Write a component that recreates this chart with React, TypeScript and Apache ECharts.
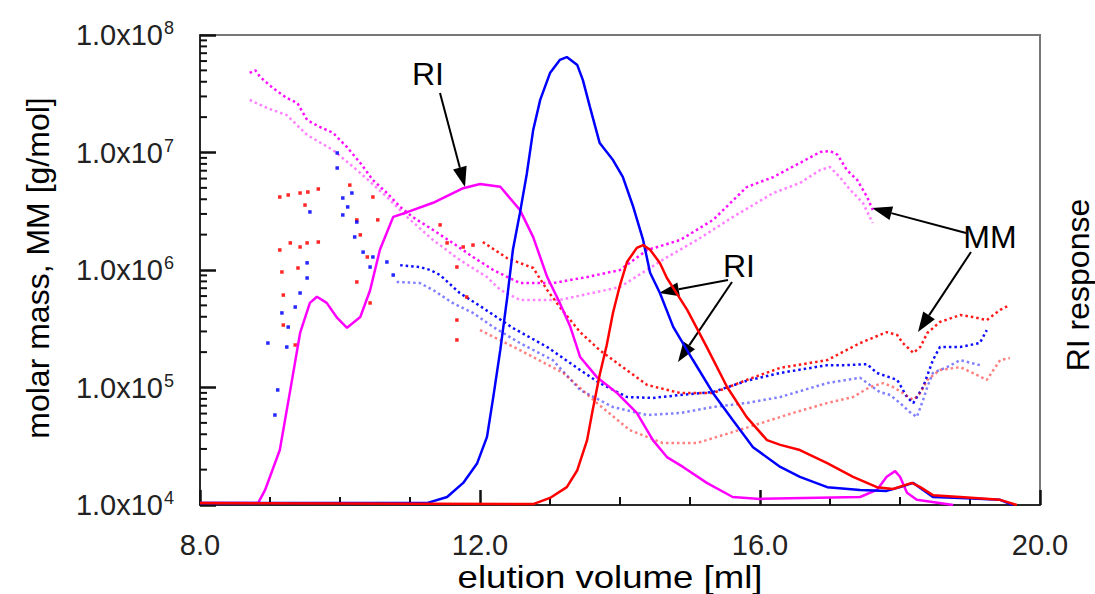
import React, { useEffect, useRef } from "react";
import * as echarts from "echarts";

// ---------- data ----------
// elution volume [ml] vs molar mass [g/mol] (light scattering, dotted)
const magentaUpperMM: [number, number][] = [
  [8.71, 4.75e7], [8.79, 5.0e7], [8.86, 4.4e7], [9.04, 3.54e7], [9.24, 2.91e7], [9.39, 2.64e7],
  [9.53, 1.89e7], [9.71, 1.65e7], [9.9, 1.47e7], [10.1, 1.11e7], [10.29, 8.15e6], [10.47, 5.83e6],
  [10.67, 4.52e6], [10.86, 3.44e6], [11.04, 2.82e6], [11.33, 2.19e6], [11.61, 1.7e6], [11.9, 1.29e6],
  [12.19, 1.0e6], [12.57, 7.74e5], [13.04, 7.74e5], [13.53, 8.71e5], [14.0, 1.0e6], [14.39, 1.48e6],
  [14.86, 1.8e6], [15.33, 2.67e6], [15.81, 5.08e6], [16.19, 6.18e6], [16.57, 8.15e6], [16.86, 1.01e7],
  [17.0, 1.03e7], [17.11, 9.53e6], [17.24, 7.1e6], [17.39, 5.83e6], [17.53, 4.18e6], [17.61, 3.24e6],
];
const magentaLowerMM: [number, number][] = [
  [8.71, 2.8e7], [8.96, 2.39e7], [9.24, 2.08e7], [9.53, 1.41e7], [9.9, 1.05e7], [10.29, 6.7e6],
  [10.67, 4.18e6], [10.96, 2.82e6], [11.33, 1.8e6], [11.71, 1.22e6], [12.1, 8.71e5], [12.29, 6.76e5],
  [12.57, 5.56e5], [13.14, 5.56e5], [14.0, 7.16e5], [14.61, 1.22e6], [15.1, 1.8e6], [15.61, 2.82e6],
  [16.19, 4.52e6], [16.57, 5.5e6], [16.86, 7.1e6], [17.0, 7.53e6], [17.14, 6.18e6], [17.29, 4.8e6],
  [17.47, 3.72e6], [17.61, 2.51e6],
];
const blueUpperMM: [number, number][] = [
  [10.86, 1.1e6], [11.14, 1.06e6], [11.29, 1.0e6], [11.43, 9.06e5], [11.71, 6.37e5], [12.0, 4.94e5],
  [12.47, 3.21e5], [12.96, 2.21e5], [13.43, 1.41e5], [13.71, 1.09e5], [14.1, 8.3e4], [14.47, 8.15e4],
  [14.86, 8.63e4], [15.33, 9.16e4], [15.81, 1.14e5], [16.29, 1.33e5], [16.96, 1.55e5], [17.24, 1.55e5],
  [17.53, 1.58e5], [17.67, 1.33e5], [17.96, 1.16e5], [18.1, 8.3e4], [18.19, 7.38e4], [18.33, 1.01e5],
  [18.47, 1.71e5], [18.57, 2.21e5], [18.86, 2.21e5], [19.14, 2.39e5], [19.24, 3.08e5],
];
const blueLowerMM: [number, number][] = [
  [10.81, 7.91e5], [11.14, 7.74e5], [11.33, 6.76e5], [11.61, 5.24e5], [11.9, 4.31e5], [12.19, 3.27e5],
  [12.57, 2.39e5], [13.04, 1.71e5], [13.43, 9.53e4], [13.9, 6.82e4], [14.39, 5.83e4], [14.86, 6.07e4],
  [15.33, 6.82e4], [15.81, 7.38e4], [16.29, 8.3e4], [16.96, 1.09e5], [17.43, 1.21e5], [17.57, 1.05e5],
  [17.71, 9.16e4], [17.86, 8.63e4], [18.0, 7.38e4], [18.14, 6.18e4], [18.24, 5.61e4], [18.33, 7.83e4],
  [18.39, 1.01e5], [18.47, 1.33e5], [18.67, 1.49e5], [18.86, 1.71e5], [19.14, 1.55e5],
];
const redUpperMM: [number, number][] = [
  [12.04, 1.73e6], [12.39, 1.26e6], [12.76, 1.04e6], [12.96, 6.76e5], [13.14, 4.84e5], [13.43, 2.96e5],
  [13.71, 2.08e5], [14.0, 1.55e5], [14.39, 1.05e5], [14.86, 8.97e4], [15.33, 8.97e4], [15.81, 1.16e5],
  [16.29, 1.47e5], [16.96, 1.71e5], [17.43, 2.39e5], [17.81, 2.96e5], [17.96, 2.8e5], [18.04, 2.39e5],
  [18.19, 1.97e5], [18.29, 2.21e5], [18.39, 2.91e5], [18.57, 3.61e5], [18.86, 4.14e5], [19.04, 3.98e5],
  [19.24, 3.75e5], [19.43, 4.57e5], [19.57, 5.04e5],
];
const redLowerMM: [number, number][] = [
  [12.0, 3.08e5], [12.57, 2.08e5], [13.19, 1.33e5], [13.67, 7.38e4], [14.14, 4.34e4], [14.61, 3.37e4],
  [15.1, 3.37e4], [15.57, 4.1e4], [16.29, 5.61e4], [16.47, 6.07e4], [16.96, 7.38e4], [17.33, 8.3e4],
  [17.57, 1.01e5], [17.76, 1.09e5], [17.9, 1.01e5], [18.04, 8.97e4], [18.19, 7.83e4], [18.29, 8.97e4],
  [18.39, 1.16e5], [18.57, 1.41e5], [18.86, 1.49e5], [19.04, 1.33e5], [19.24, 1.16e5], [19.43, 1.71e5],
  [19.57, 1.78e5],
];
// scattered early points (low signal region)
const redScatterMM: [number, number][] = [
  [9.14, 4.18e6], [9.26, 4.35e6], [9.43, 4.52e6], [9.54, 4.61e6], [9.69, 4.89e6], [9.5, 3.57e6],
  [9.14, 1.48e6], [9.29, 1.7e6], [9.43, 1.57e6], [9.53, 1.7e6], [9.69, 1.73e6], [9.17, 9.62e5],
  [9.4, 1.04e6], [10.14, 5.28e6], [10.47, 4.18e6], [10.24, 2.67e6], [10.29, 1.99e6], [10.54, 2.67e6],
  [11.43, 2.42e6], [11.53, 1.7e6], [11.76, 1.57e6], [11.9, 1.63e6], [11.67, 1.06e6], [9.19, 6.12e5],
  [9.19, 3.4e5], [9.36, 2.3e5], [10.24, 7.91e5], [10.39, 1.29e6], [10.43, 5.24e5], [11.67, 2.54e5],
  [11.67, 3.75e5], [11.81, 5.89e5],
];
const blueScatterMM: [number, number][] = [
  [9.96, 9.91e6], [9.96, 7.38e6], [10.17, 4.52e6], [10.04, 4.1e6], [10.11, 3.44e6], [9.57, 3.12e6],
  [10.04, 2.94e6], [10.24, 2.56e6], [10.21, 1.91e6], [10.33, 1.42e6], [10.47, 1.29e6], [10.43, 1.06e6],
  [9.53, 1.15e6], [9.53, 8.55e5], [9.43, 6.37e5], [9.36, 4.84e5], [9.17, 4.31e5], [9.26, 3.27e5],
  [8.97, 2.39e5], [9.24, 2.21e5], [9.11, 9.53e4], [9.07, 5.83e4], [10.67, 1.17e6], [10.76, 9.06e5],
];

// RI response (relative, 0-100)
const magentaRI: [number, number][] = [
  [8.0, 0.4], [8.83, 0.4], [8.93, 3.2], [9.14, 11.7], [9.29, 24.5], [9.43, 36.6], [9.57, 43.0],
  [9.67, 44.3], [9.81, 43.0], [9.96, 39.8], [10.1, 37.7], [10.29, 40.0], [10.43, 45.7], [10.57, 54.3],
  [10.76, 61.3], [10.96, 62.3], [11.33, 64.3], [11.76, 67.4], [12.0, 68.3], [12.29, 67.7],
  [12.57, 62.8], [12.76, 57.0], [12.96, 48.5], [13.14, 43.0], [13.29, 37.9], [13.43, 31.5],
  [13.67, 27.2], [13.96, 23.8], [14.24, 19.6], [14.47, 13.8], [14.67, 10.2], [14.9, 8.1],
  [15.24, 4.7], [15.61, 1.7], [16.0, 1.3], [17.43, 1.7], [17.67, 3.2], [17.81, 6.0], [17.93, 7.2],
  [18.0, 6.0], [18.1, 2.6], [18.24, 1.1], [18.76, 0.0],
];
const blueRI: [number, number][] = [
  [8.0, 0.4], [11.24, 0.4], [11.53, 1.7], [11.76, 4.7], [11.96, 8.9], [12.1, 14.5], [12.19, 23.0],
  [12.29, 33.0], [12.39, 44.3], [12.47, 54.3], [12.57, 62.1], [12.67, 70.6], [12.76, 79.8],
  [12.86, 86.2], [13.0, 91.9], [13.14, 94.7], [13.24, 95.3], [13.39, 93.6], [13.47, 90.4],
  [13.57, 84.7], [13.71, 77.0], [13.9, 73.4], [14.04, 69.8], [14.19, 63.4], [14.33, 56.4],
  [14.43, 49.4], [14.57, 45.1], [14.76, 37.9], [15.04, 30.9], [15.33, 23.8], [15.61, 18.1],
  [15.9, 12.3], [16.29, 8.1], [16.57, 6.0], [16.96, 3.8], [17.43, 3.2], [17.81, 3.0], [18.0, 3.8],
  [18.19, 4.7], [18.33, 3.2], [18.47, 1.7], [18.86, 1.5], [19.43, 1.1], [19.61, 0.0],
];
const redRI: [number, number][] = [
  [8.0, 0.4], [12.76, 0.2], [13.0, 1.5], [13.24, 3.8], [13.39, 7.4], [13.53, 13.8], [13.61, 20.2],
  [13.71, 27.7], [13.81, 34.0], [13.9, 40.9], [14.0, 46.8], [14.1, 51.7], [14.24, 54.7],
  [14.33, 55.3], [14.43, 54.3], [14.57, 51.5], [14.67, 48.3], [14.96, 41.5], [15.24, 33.6],
  [15.53, 25.1], [15.81, 18.7], [16.1, 13.8], [16.29, 12.8], [16.57, 11.7], [16.96, 8.9],
  [17.33, 6.0], [17.67, 3.8], [17.9, 3.4], [18.17, 4.7], [18.29, 3.8], [18.47, 2.1], [18.86, 1.7],
  [19.43, 1.1], [19.67, 0.0],
];

const xTicks = [8, 12, 16, 20];
const yDecades = [1e4, 1e5, 1e6, 1e7, 1e8];
const yMinorMultipliers = [2, 3, 4, 5, 6, 7, 8, 9];

// ---------- styling ----------
const FONT = "Liberation Sans, Arial, sans-serif";
const MAGENTA = "#ff00ff";
const BLUE = "#0000ff";
const RED = "#ff0000";
const TICK = "#111";

function arrow(sx: number, sy: number, tx: number, ty: number) {
  const dx = tx - sx, dy = ty - sy;
  const len = Math.hypot(dx, dy);
  const ux = dx / len, uy = dy / len;
  const L = 20, W = 7;
  const bx = tx - ux * L, by = ty - uy * L;
  return [
    { type: "line", shape: { x1: sx, y1: sy, x2: bx, y2: by }, style: { stroke: "#000", lineWidth: 2 } },
    {
      type: "polygon",
      shape: { points: [[tx, ty], [bx - uy * W, by + ux * W], [bx + uy * W, by - ux * W]] },
      style: { fill: "#000" },
    },
  ];
}

export default function App() {
  const ref = useRef<HTMLDivElement>(null);
  useEffect(() => {
    document.body.style.margin = "0";
    if (!ref.current) return;
    const chart = echarts.init(ref.current, undefined, { renderer: "svg" });

    const dotted = (data: [number, number][], color: string, opacity: number) => ({
      type: "line",
      data,
      yAxisIndex: 0,
      showSymbol: false,
      silent: true,
      lineStyle: { color, width: 2.5, type: [2.5, 3], opacity },
      z: 2,
    });
    const riLine = (data: [number, number][], color: string) => ({
      type: "line",
      data,
      yAxisIndex: 1,
      showSymbol: false,
      silent: true,
      lineStyle: { color, width: 2.5 },
      z: 3,
    });

    const graphics: any[] = [
      { type: "text", x: 428, y: 74, style: { text: "RI", font: `32px ${FONT}`, fill: "#000", align: "center", verticalAlign: "middle" } },
      { type: "text", x: 990, y: 237, style: { text: "MM", font: `32px ${FONT}`, fill: "#000", align: "center", verticalAlign: "middle" } },
      { type: "text", x: 739, y: 266, style: { text: "RI", font: `32px ${FONT}`, fill: "#000", align: "center", verticalAlign: "middle" } },
      ...arrow(440, 93, 465, 187),
      ...arrow(966, 233, 872, 208),
      ...arrow(971, 252, 918, 332),
      ...arrow(728, 280, 659, 293),
      ...arrow(732, 282, 678, 362),
      {
        type: "text", x: 38, y: 268, rotation: Math.PI / 2,
        style: { text: "molar mass, MM [g/mol]", font: `32px ${FONT}`, fill: "#000", align: "center", verticalAlign: "middle" },
      },
      {
        type: "text", x: 1078, y: 285, rotation: Math.PI / 2,
        style: { text: "RI response", font: `32px ${FONT}`, fill: "#000", align: "center", verticalAlign: "middle" },
      },
      {
        type: "text", x: 610, y: 577, scaleX: 1.18,
        style: { text: "elution volume [ml]", font: `31px ${FONT}`, fill: "#000", align: "center", verticalAlign: "middle" },
      },
    ];

    chart.setOption({
      animation: false,
      grid: { left: 200, right: 55, top: 35, bottom: 89, show: true, borderColor: "#777", borderWidth: 2 },
      xAxis: {
        type: "value",
        min: xTicks[0],
        max: xTicks[xTicks.length - 1],
        interval: 4,
        axisLine: { show: true, lineStyle: { color: TICK, width: 1.5 } },
        axisTick: { show: true, inside: true, length: 15, lineStyle: { color: TICK, width: 2.5 } },
        minorTick: { show: true, splitNumber: 4, length: 8, lineStyle: { color: TICK, width: 2 } },
        splitLine: { show: false },
        axisLabel: { margin: 25, fontFamily: FONT, fontSize: 29, color: "#222", formatter: (v: number) => v.toFixed(1) },
      },
      yAxis: [
        {
          type: "log",
          logBase: 10,
          min: yDecades[0],
          max: yDecades[yDecades.length - 1],
          splitNumber: 4,
          axisLine: { show: true, lineStyle: { color: TICK, width: 1.5 } },
          axisTick: { show: true, inside: true, length: 16, lineStyle: { color: TICK, width: 2.5 } },
          splitLine: { show: false },
          axisLabel: {
            margin: 26,
            formatter: (v: number) => `{b|1.0x10}{s|${Math.round(Math.log10(v))}}`,
            rich: {
              b: { fontFamily: FONT, fontSize: 29, color: "#222", lineHeight: 32 },
              s: { fontFamily: FONT, fontSize: 18, color: "#222", verticalAlign: "top", lineHeight: 14, padding: [0, 0, 0, 1] },
            },
          },
        },
        {
          type: "value",
          min: 0,
          max: 100,
          show: false,
        },
      ],
      series: [
        dotted(magentaLowerMM, MAGENTA, 0.5),
        dotted(magentaUpperMM, MAGENTA, 0.95),
        dotted(blueLowerMM, BLUE, 0.5),
        dotted(blueUpperMM, BLUE, 0.95),
        dotted(redLowerMM, RED, 0.5),
        dotted(redUpperMM, RED, 0.9),
        { type: "scatter", data: redScatterMM, yAxisIndex: 0, symbol: "rect", symbolSize: 3.5, itemStyle: { color: RED, opacity: 0.85 }, silent: true },
        { type: "scatter", data: blueScatterMM, yAxisIndex: 0, symbol: "rect", symbolSize: 3.5, itemStyle: { color: BLUE, opacity: 0.85 }, silent: true },
        riLine(magentaRI, MAGENTA),
        riLine(blueRI, BLUE),
        riLine(redRI, RED),
      ],
      graphic: graphics,
    });

    // minor ticks of the log axis, placed through the axis' own scale
    const ticks: any[] = [];
    yDecades.slice(0, -1).forEach((d) => {
      yMinorMultipliers.forEach((k) => {
        const q = chart.convertToPixel({ xAxisIndex: 0, yAxisIndex: 0 }, [xTicks[0], k * d]) as number[];
        ticks.push({ type: "line", z: 50, shape: { x1: q[0], y1: q[1], x2: q[0] + 7, y2: q[1] }, style: { stroke: TICK, lineWidth: 2 } });
      });
    });
    chart.setOption({ graphic: [...graphics, ...ticks] });

    return () => chart.dispose();
  }, []);
  return <div ref={ref} style={{ width: 1095, height: 594 }} />;
}
